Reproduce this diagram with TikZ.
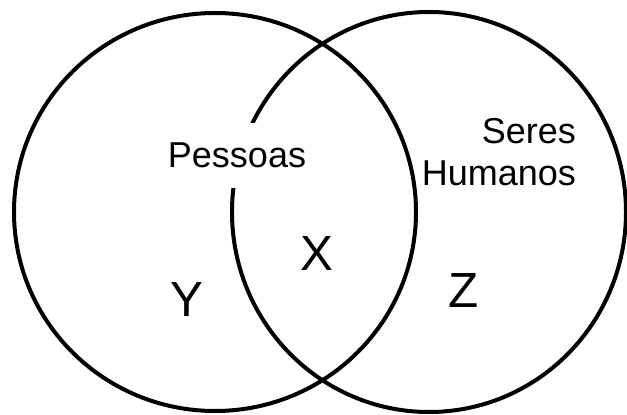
\documentclass[tikz,border=0pt]{standalone}
\usepackage{fontspec}
\setmainfont{Liberation Sans}

\begin{document}
\begin{tikzpicture}[x=0.75pt,y=0.75pt,line width=3pt,
  every node/.style={inner sep=0pt},
  setname/.style={font=\fontsize{27pt}{31.5pt}\selectfont},
  region/.style={font=\fontsize{37pt}{44pt}\selectfont,anchor=base}]
  \useasboundingbox (0,0) rectangle (627,414);
  \draw (215,202) ellipse [x radius=201,y radius=199];
  \draw (429,202) ellipse [x radius=197,y radius=200];
  \node[setname,fill=white,minimum height=48.75pt] (pessoas) at (237,258.5) {Pessoas};
  \node[setname,align=right,anchor=base east] (humanos) at (578,228) {Seres\\Humanos};
  \node[region] (x) at (317,143) {X};
  \node[region] (y) at (187,98) {Y};
  \node[region] (z) at (464,107) {Z};
\end{tikzpicture}
\end{document}
